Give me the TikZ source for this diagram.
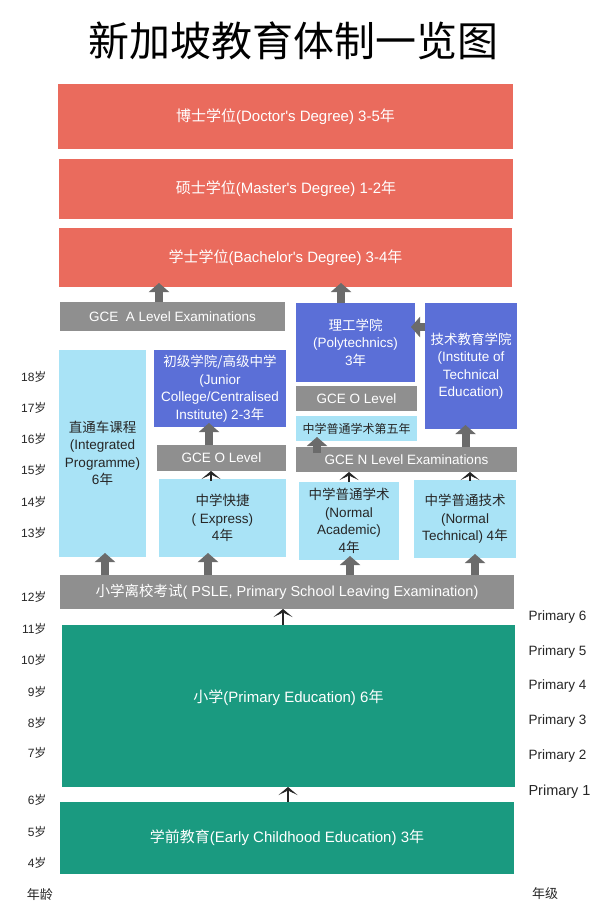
\documentclass[tikz,border=0pt]{standalone}
\usepackage{fontspec}
\setmainfont{Liberation Sans}
\newfontfamily\zhfont{Noto Sans CJK SC}
\newcommand{\zh}[1]{{\zhfont #1}}
\usepackage{tikz}
\usetikzlibrary{arrows.meta,calc}
\definecolor{degred}{HTML}{EA6B5D}
\definecolor{examgrey}{HTML}{8F8F8F}
\definecolor{collblue}{HTML}{5B6FD7}
\definecolor{schoolblue}{HTML}{A9E3F6}
\definecolor{primgreen}{HTML}{1A9A80}
\definecolor{arrowgrey}{HTML}{6B6B6B}

\begin{document}
\begin{tikzpicture}[x=1pt,y=-1pt]
             \tikzstyle{box}=[anchor=north west,inner sep=0pt,outer sep=0pt,align=center,text=white,font=\fontsize{13.5}{17.5}\selectfont]
             \tikzstyle{redbox}=[box,fill=degred,font=\fontsize{15}{18}\selectfont]
             \tikzstyle{greybox}=[box,fill=examgrey]
             \tikzstyle{bluebox}=[box,fill=collblue]
             \tikzstyle{lightbox}=[box,fill=schoolblue,text=black!85]
             \tikzstyle{greenbox}=[box,fill=primgreen,font=\fontsize{15}{18}\selectfont]
             \tikzstyle{grarrow}=[draw=arrowgrey,line width=8pt,-{Triangle[width=20pt,length=9pt]},shorten >=-4pt]
             \tikzstyle{blarrow}=[draw=black!85,line width=2pt,-{Stealth[width=19pt,length=8pt,inset=4.5pt]}]
             \tikzstyle{age}=[anchor=east,text=black!85,font=\fontsize{12}{14}\selectfont]
             \tikzstyle{grade}=[anchor=west,text=black!85,font=\fontsize{13.5}{16}\selectfont]
            \fill[white] (0,0) rectangle (606,915);
            \useasboundingbox (0,0) rectangle (606,915);
            \node[font=\zhfont\fontsize{41}{48}\selectfont] (title) at (293,41) {新加坡教育体制一览图};
            % degrees
            \node[redbox,minimum width=455pt,minimum height=65pt] (phd) at (58,84) {\zh{博士学位}(Doctor\textquotesingle s Degree) 3-5\zh{年}};
            \node[redbox,minimum width=454pt,minimum height=60pt] (msc) at (59,159) {\zh{硕士学位}(Master\textquotesingle s Degree) 1-2\zh{年}};
            \node[redbox,minimum width=453pt,minimum height=59pt] (bsc) at (59,228) {\zh{学士学位}(Bachelor\textquotesingle s Degree) 3-4\zh{年}};
            % post secondary
            \node[greybox,minimum width=225pt,minimum height=29pt] (alevel) at (60,302) {GCE\ \ A Level Examinations};
            \node[bluebox,minimum width=119pt,minimum height=79pt] (poly) at (296,303) {\zh{理工学院}\\(Polytechnics)\\3\zh{年}};
            \node[bluebox,minimum width=92pt,minimum height=126pt] (ite) at (425,303) {\zh{技术教育学院}\\(Institute of\\Technical\\Education)};
            \node[bluebox,minimum width=132pt,minimum height=77pt] (jc) at (154,350) {\zh{初级学院/高级中学}\\(Junior\\College/Centralised\\Institute) 2-3\zh{年}};
            \node[greybox,minimum width=121pt,minimum height=25pt] (olevelB) at (296,386) {GCE O Level};
            \node[lightbox,minimum width=121pt,minimum height=25pt,font=\fontsize{12}{14}\selectfont] (nafive) at (296,416) {\zh{中学普通学术第五年}};
            \node[greybox,minimum width=129pt,minimum height=26pt] (olevelA) at (157,445) {GCE O Level};
            \node[greybox,minimum width=221pt,minimum height=25pt] (nlevel) at (296,447) {GCE N Level Examinations};
            % secondary
            \node[lightbox,minimum width=87pt,minimum height=207pt] (ip) at (59,350) {\zh{直通车课程}\\(Integrated\\Programme)\\6\zh{年}};
            \node[lightbox,minimum width=127pt,minimum height=78pt] (express) at (159,479) {\zh{中学快捷}\\( Express)\\4\zh{年}};
            \node[lightbox,minimum width=100pt,minimum height=78pt] (nacad) at (299,482) {\zh{中学普通学术}\\(Normal\\Academic)\\4\zh{年}};
            \node[lightbox,minimum width=102pt,minimum height=78pt] (ntech) at (414,480) {\zh{中学普通技术}\\(Normal\\Technical) 4\zh{年}};
            \node[greybox,minimum width=454pt,minimum height=34pt,font=\fontsize{14.5}{17}\selectfont] (psle) at (60,575) {\zh{小学离校考试}( PSLE, Primary School Leaving Examination)};
            % primary and pre-school
            \node[greenbox,minimum width=453pt,minimum height=162pt,text depth=20pt] (primary) at (62,625) {\zh{小学}(Primary Education) 6\zh{年}};
            \node[greenbox,minimum width=454pt,minimum height=72pt] (preschool) at (60,802) {\zh{学前教育}(Early Childhood Education) 3\zh{年}};
            % grey arrows
            \draw[grarrow] ($(alevel.north)+(-13.5,0)$) -- ($(alevel.north |- bsc.south)+(-13.5,0)$);
            \draw[grarrow] ($(poly.north)+(-14.5,0)$) -- ($(poly.north |- bsc.south)+(-14.5,0)$);
            \draw[grarrow] ($(ite.west)+(0,-39)$) -- ($(ite.west -| poly.east)+(0,-39)$);
            \draw[grarrow] ($(olevelA.north)+(-12.5,0)$) -- ($(olevelA.north |- jc.south)+(-12.5,0)$);
            \draw[grarrow] ($(nlevel.north -| ite.south)+(-5.5,0)$) -- ($(ite.south)+(-5.5,0)$);
            \draw[grarrow] ($(nlevel.north -| nafive.south)+(-39.5,6)$) -- ($(nafive.south)+(-39.5,0)$);
            \draw[grarrow] ($(psle.north -| ip.south)+(2.5,0)$) -- ($(ip.south)+(2.5,0)$);
            \draw[grarrow] ($(psle.north -| express.south)+(-14.5,0)$) -- ($(express.south)+(-14.5,0)$);
            \draw[grarrow] ($(psle.north -| nacad.south)+(1,0)$) -- ($(nacad.south)+(1,0)$);
            \draw[grarrow] ($(psle.north -| ntech.south)+(10,0)$) -- ($(ntech.south)+(10,0)$);
            % black arrows
            \draw[blarrow] ($(express.north)+(-11.5,2)$) -- ($(express.north |- olevelA.south)+(-11.5,0)$);
            \draw[blarrow] (nacad.north) -- (nacad.north |- nlevel.south);
            \draw[blarrow] ($(ntech.north)+(5,1)$) -- ($(ntech.north |- nlevel.south)+(5,0)$);
            \draw[blarrow] ($(primary.north)+(-5.5,0)$) -- ($(primary.north |- psle.south)+(-5.5,0)$);
            \draw[blarrow] ($(preschool.north)+(1,0)$) -- ($(preschool.north |- primary.south)+(1,0)$);
            % ages and grades
            \foreach \a/\y in {18/377,17/408,16/439,15/470,14/502,13/533,12/597,11/629,10/660,9/692,8/723,7/753,6/800,5/832,4/863}
              \node[age] (age\a) at (50,\y) {\a\zh{岁}};
            \node[text=black!85,font=\zhfont\fontsize{13}{15}\selectfont] (agehead) at (40,895) {年龄};
            \foreach \g/\y in {6/617,5/652,4/686,3/721,2/756}
              \node[grade] (grade\g) at (525,\y) {Primary \g};
            \node[grade,font=\fontsize{14.5}{17}\selectfont] (grade1) at (525,792) {Primary 1};
            \node[text=black!85,font=\zhfont\fontsize{13}{15}\selectfont] (gradehead) at (545,894) {年级};
\end{tikzpicture}
\end{document}
